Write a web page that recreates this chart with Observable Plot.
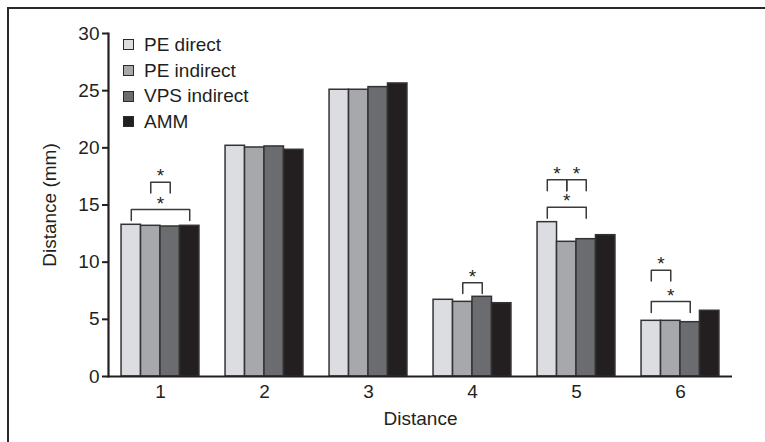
<!DOCTYPE html>
<html>
<head>
<meta charset="utf-8">
<script src="https://cdn.jsdelivr.net/npm/d3@7"></script>
<script src="https://cdn.jsdelivr.net/npm/@observablehq/plot@0.6"></script>
<style>
  html, body { margin: 0; padding: 0; background: #fff; overflow: hidden; }
  #wrap { position: relative; width: 765px; height: 442px; font-family: "Liberation Sans", Arial, sans-serif; }
  #border { position: absolute; left: 7px; top: 7px; width: 900px; height: 600px;
            border-top: 2px solid #2a2a2a; border-left: 2px solid #2a2a2a; }
  #chart { position: absolute; left: 0; top: 0; }
  #legend { position: absolute; left: 123px; top: 32px; font-size: 19px; color: #231f20; }
  .item { display: flex; align-items: center; height: 25.7px; }
  .sw { width: 9px; height: 9px; border: 1.3px solid #2a2a2a; margin-right: 10px; }
</style>
</head>
<body>
<div id="wrap">
  <div id="border"></div>
  <div id="chart"></div>
  <div id="legend"></div>
</div>
<script>
const categories = ["1", "2", "3", "4", "5", "6"];
const series = ["PE direct", "PE indirect", "VPS indirect", "AMM"];
const colors = ["#dcdde0", "#a7a8ab", "#6b6c70", "#231f20"];
const peDirect    = [13.27, 20.18, 25.08, 6.71, 13.50, 4.87];
const peIndirect  = [13.18, 20.03, 25.08, 6.53, 11.78, 4.87];
const vpsIndirect = [13.12, 20.12, 25.31, 6.97, 12.01, 4.75];
const amm         = [13.18, 19.83, 25.63, 6.41, 12.36, 5.75];
const yTicks = [0, 5, 10, 15, 20, 25, 30];

// significance brackets
const bracketCat  = ["1", "1", "4", "5", "5", "5", "6", "6"];
const bracketFrom = ["PE indirect", "PE direct", "PE indirect", "PE direct", "PE indirect", "PE direct", "PE direct", "PE direct"];
const bracketTo   = ["VPS indirect", "AMM", "VPS indirect", "PE indirect", "VPS indirect", "VPS indirect", "PE indirect", "VPS indirect"];
const bracketTop  = [17.0, 14.6, 8.2, 17.2, 17.2, 14.8, 9.3, 6.55];
const legLength = 0.95;

const valuesBySeries = [peDirect, peIndirect, vpsIndirect, amm];
const rows = [];
categories.forEach((c, i) => series.forEach((s, j) => rows.push({cat: c, series: s, idx: j, value: valuesBySeries[j][i]})));

const bracketPts = [];
const stars = [];
bracketCat.forEach((c, i) => {
  const t = bracketTop[i];
  const a = series.indexOf(bracketFrom[i]) + 0.5, b = series.indexOf(bracketTo[i]) + 0.5;
  bracketPts.push({id: i, cat: c, x: a, y: t - legLength});
  bracketPts.push({id: i, cat: c, x: a, y: t});
  bracketPts.push({id: i, cat: c, x: b, y: t});
  bracketPts.push({id: i, cat: c, x: b, y: t - legLength});
  stars.push({cat: c, x: (a + b) / 2, y: t});
});

const font = "Liberation Sans, Arial, sans-serif";
const chart = Plot.plot({
  width: 765,
  height: 442,
  marginLeft: 107,
  marginRight: 33,
  marginTop: 33,
  marginBottom: 66,
  style: {fontFamily: font, fontSize: "19px", color: "#231f20", background: "transparent"},
  fx: {domain: categories, padding: 0},
  x: {type: "linear", domain: [-0.67, series.length + 0.67], axis: null},
  y: {domain: [0, 30]},
  color: {domain: series, range: colors},
  marks: [
    Plot.rectY(rows, {fx: "cat", x1: "idx", x2: (d) => d.idx + 1, y: "value", fill: "series", stroke: "#333", strokeWidth: 1.5}),
    Plot.ruleY([0], {stroke: "#231f20", strokeWidth: 2.2}),
    Plot.frame({anchor: "left", facetAnchor: "left", stroke: "#231f20", strokeWidth: 2.2}),
    Plot.line(bracketPts, {fx: "cat", x: "x", y: "y", z: "id", stroke: "#3a3a3a", strokeWidth: 1.5}),
    Plot.text(stars, {fx: "cat", x: "x", y: "y", text: () => "*", dy: -6, fontSize: 19, fill: "#231f20"}),
    Plot.axisY({ticks: yTicks, tickSize: 6, tickPadding: 3, strokeWidth: 2, fontSize: 19,
      label: "Distance (mm)", labelAnchor: "center", labelOffset: 66, labelArrow: false}),
    Plot.axisFx({anchor: "bottom", tickSize: 0, tickPadding: 8, fontSize: 19,
      label: "Distance", labelAnchor: "center", labelOffset: 48, labelArrow: false})
  ]
});
document.getElementById("chart").appendChild(chart);

const legend = document.getElementById("legend");
series.forEach((s, i) => {
  const item = document.createElement("div");
  item.className = "item";
  const sw = document.createElement("div");
  sw.className = "sw";
  sw.style.background = colors[i];
  const lab = document.createElement("span");
  lab.textContent = s;
  item.appendChild(sw);
  item.appendChild(lab);
  legend.appendChild(item);
});
</script>
</body>
</html>
